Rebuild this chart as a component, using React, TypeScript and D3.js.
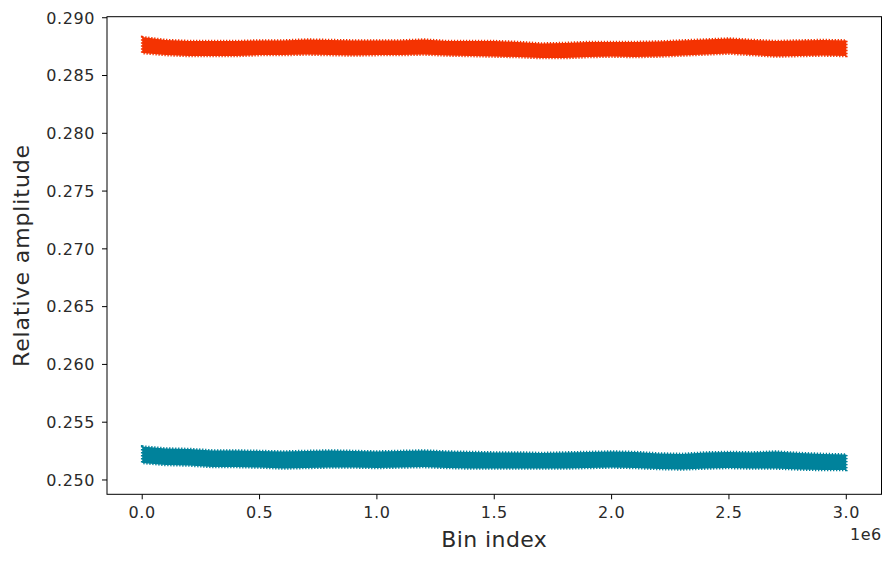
import React from "react";
import * as d3 from "d3";

// Bin index sample positions (in millions of bins)
const binIndexM = [
  0.0, 0.1, 0.2, 0.3, 0.4, 0.5, 0.6, 0.7, 0.8, 0.9, 1.0, 1.1, 1.2, 1.3, 1.4, 1.5,
  1.6, 1.7, 1.8, 1.9, 2.0, 2.1, 2.2, 2.3, 2.4, 2.5, 2.6, 2.7, 2.8, 2.9, 3.0,
];

// Upper / lower envelope of the noisy red series
const redUpper = [
  0.28833, 0.28807, 0.28798, 0.28798, 0.28798, 0.28803, 0.28803, 0.28811, 0.28807, 0.28803,
  0.28803, 0.28803, 0.28811, 0.28798, 0.28798, 0.28798, 0.2879, 0.28777, 0.28781, 0.2879,
  0.2879, 0.2879, 0.28794, 0.28803, 0.28811, 0.2882, 0.28807, 0.28798, 0.28803, 0.28807, 0.28803,
];
const redLower = [
  0.28695, 0.28677, 0.28669, 0.28669, 0.28669, 0.28677, 0.28677, 0.28682, 0.28677, 0.28673,
  0.28677, 0.28677, 0.28682, 0.28673, 0.28669, 0.28664, 0.2866, 0.28651, 0.28651, 0.2866,
  0.28664, 0.2866, 0.28664, 0.28673, 0.28682, 0.2869, 0.28677, 0.28664, 0.28669, 0.28673, 0.28669,
];

// Upper / lower envelope of the noisy teal series
const tealUpper = [
  0.2529, 0.25272, 0.25268, 0.25255, 0.25255, 0.25251, 0.25246, 0.25251, 0.25255, 0.25251,
  0.25246, 0.25251, 0.25255, 0.25246, 0.25242, 0.25238, 0.25238, 0.25233, 0.25238, 0.25242,
  0.25246, 0.25242, 0.25229, 0.25225, 0.25238, 0.25242, 0.25238, 0.25246, 0.25233, 0.25225, 0.2522,
];
const tealLower = [
  0.25147, 0.2513, 0.25125, 0.25112, 0.25112, 0.25108, 0.25099, 0.25104, 0.25108, 0.25108,
  0.25104, 0.25108, 0.25112, 0.25104, 0.25099, 0.25099, 0.25099, 0.25099, 0.25099, 0.25104,
  0.25108, 0.25104, 0.25095, 0.25091, 0.25099, 0.25104, 0.25099, 0.25099, 0.25091, 0.25086, 0.25086,
];

const xTicks = [0, 0.5, 1.0, 1.5, 2.0, 2.5, 3.0];
const yTicks = [0.25, 0.255, 0.26, 0.265, 0.27, 0.275, 0.28, 0.285, 0.29];

const W = 890;
const H = 562;
const M = { left: 107, top: 16.7, right: 881.5, bottom: 494.3 };
const RED = "#f43302";
const TEAL = "#00829b";
const FONT = "'DejaVu Sans', sans-serif";
const TXT = "#2a2a2a";

export default function App() {
  const x = d3.scaleLinear().domain([-0.15, 3.15]).range([M.left, M.right]);
  const y = d3.scaleLinear().domain([0.24876, 0.29009]).range([M.bottom, M.top]);

  const band = (up: number[], lo: number[]) =>
    d3
      .area<number>()
      .x((_, i) => x(binIndexM[i]))
      .y0((_, i) => y(lo[i]))
      .y1((_, i) => y(up[i]))
      .curve(d3.curveLinear)(binIndexM) as string;

  const series = [
    { up: redUpper, lo: redLower, color: RED },
    { up: tealUpper, lo: tealLower, color: TEAL },
  ];

  return (
    <svg
      width={W}
      height={H}
      style={{ position: "absolute", left: 0, top: 0, background: "#fff" }}
      fontFamily={FONT}
    >
      <defs>
        <clipPath id="plotclip">
          <rect x={M.left} y={M.top} width={M.right - M.left} height={M.bottom - M.top} />
        </clipPath>
      </defs>
      <g clipPath="url(#plotclip)">
        {series.map((s, k) => (
          <g key={k}>
            <path d={band(s.up, s.lo)} fill={s.color} stroke="none" />
            <path
              d={band(s.up, s.lo)}
              fill="none"
              stroke={s.color}
              strokeWidth={2.6}
              strokeDasharray="1.3,1.7"
            />
          </g>
        ))}
      </g>
      <rect
        x={M.left}
        y={M.top}
        width={M.right - M.left}
        height={M.bottom - M.top}
        fill="none"
        stroke="#000"
        strokeWidth={1}
      />
      {xTicks.map((t) => (
        <g key={"x" + t} transform={`translate(${x(t)},0)`}>
          <line y1={M.bottom} y2={M.bottom + 5} stroke="#000" strokeWidth={1} />
          <text y={518} textAnchor="middle" fontSize={16} fill={TXT} letterSpacing={0.6}>
            {t.toFixed(1)}
          </text>
        </g>
      ))}
      {yTicks.map((t) => (
        <g key={"y" + t} transform={`translate(0,${y(t)})`}>
          <line x1={M.left - 5} x2={M.left} stroke="#000" strokeWidth={1} />
          <text
            x={M.left - 12}
            dy="0.36em"
            textAnchor="end"
            fontSize={16}
            fill={TXT}
            letterSpacing={0.6}
          >
            {t.toFixed(3)}
          </text>
        </g>
      ))}
      <text x={M.right} y={540} textAnchor="end" fontSize={16} fill={TXT} letterSpacing={0.4}>
        1e6
      </text>
      <text
        x={(M.left + M.right) / 2}
        y={547}
        textAnchor="middle"
        fontSize={22}
        fill={TXT}
        letterSpacing={0.4}
      >
        Bin index
      </text>
      <text
        transform={`translate(29,${(M.top + M.bottom) / 2}) rotate(-90)`}
        textAnchor="middle"
        fontSize={22}
        fill={TXT}
        letterSpacing={0.9}
      >
        Relative amplitude
      </text>
    </svg>
  );
}
